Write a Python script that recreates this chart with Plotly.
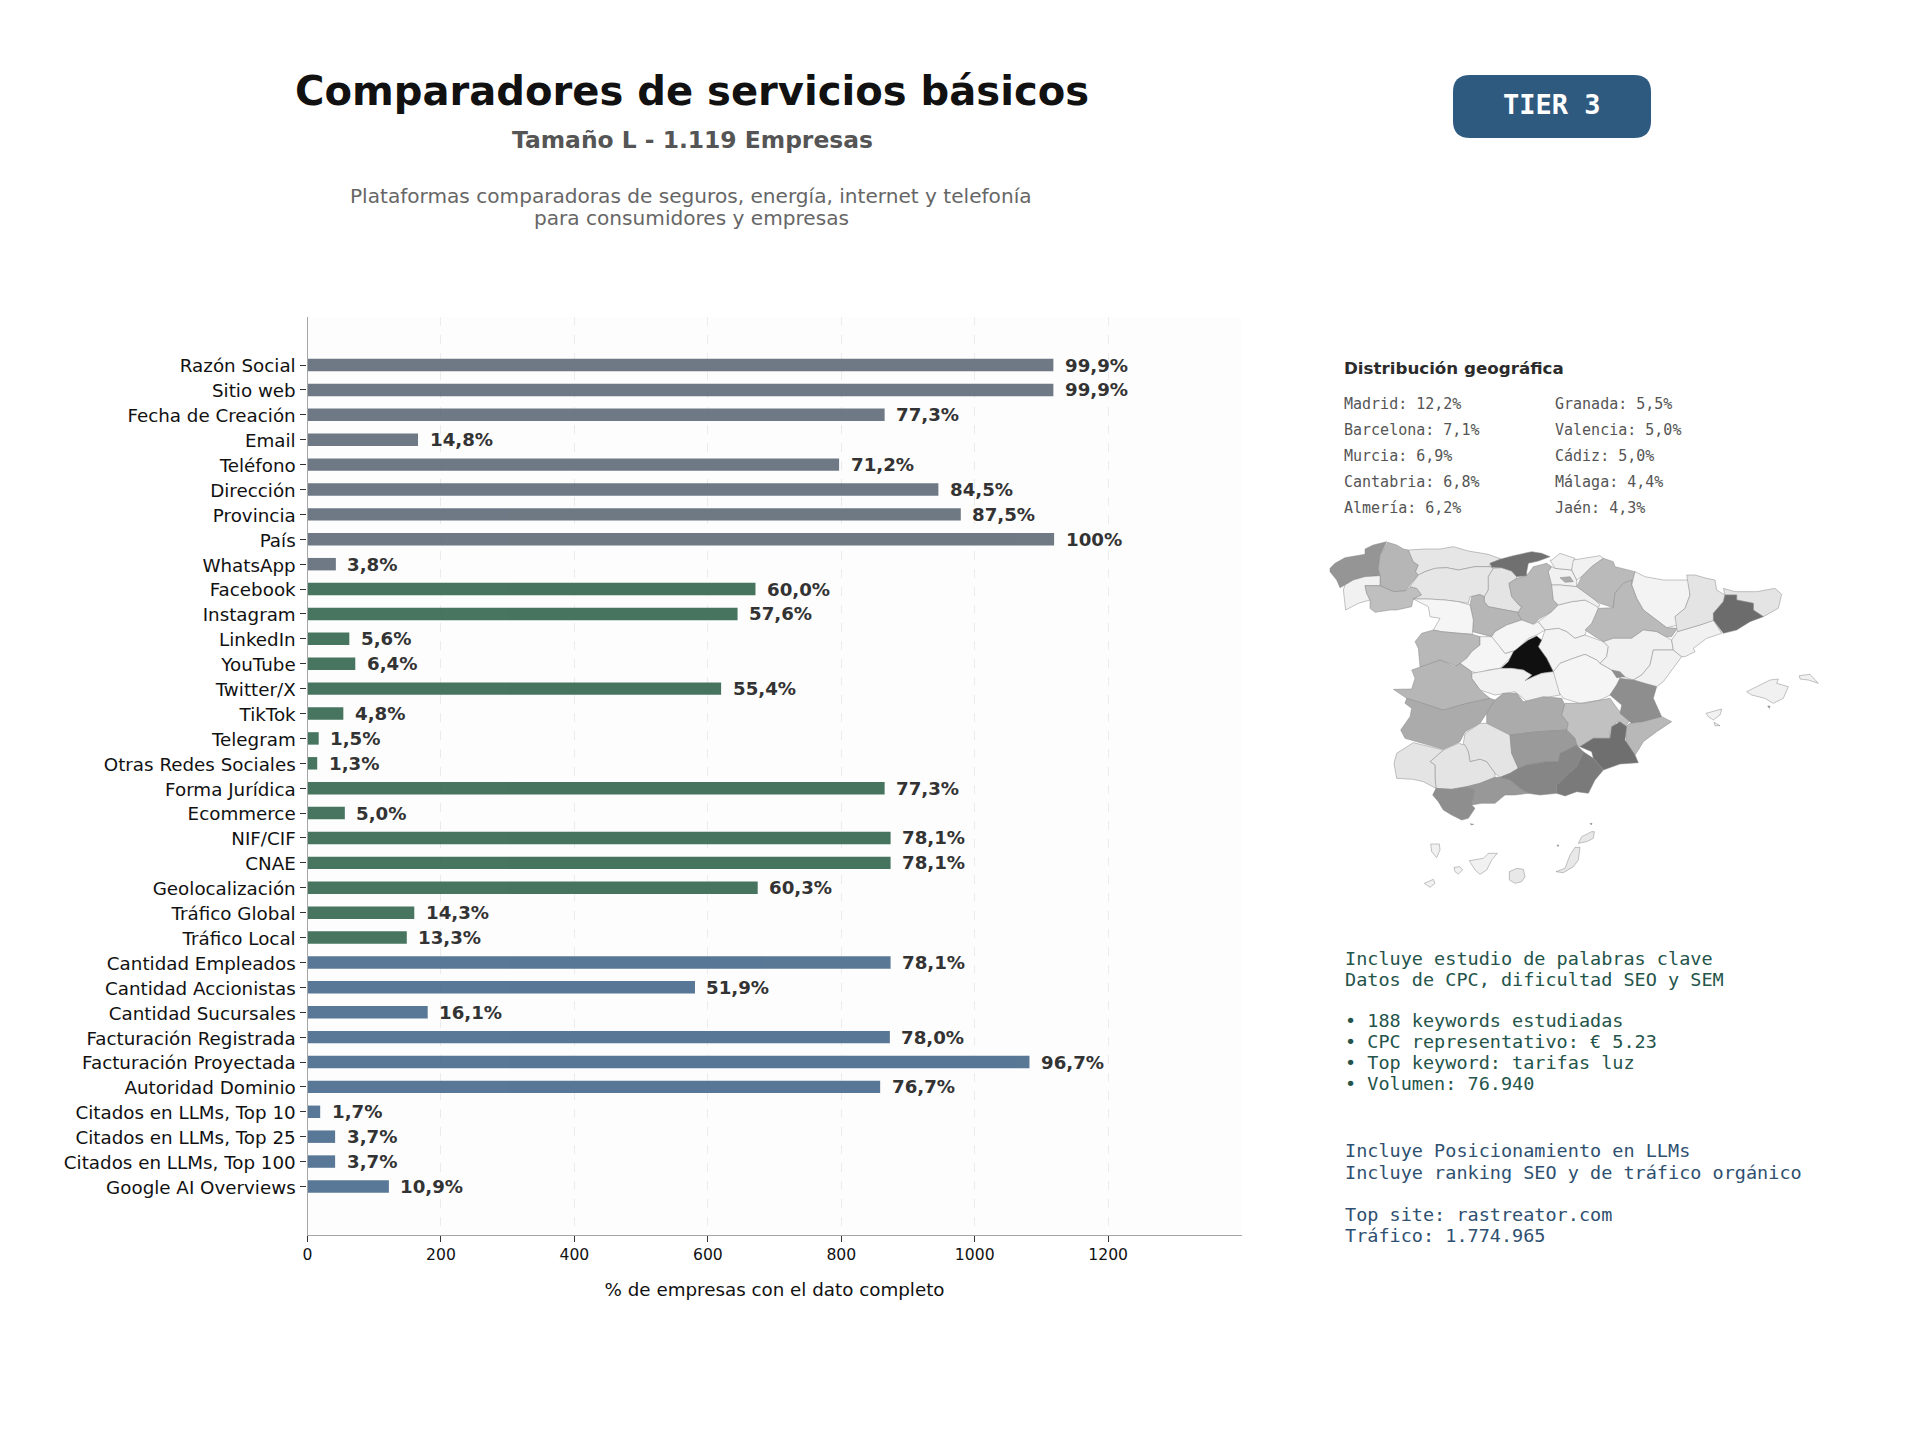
import numpy as np
import plotly.graph_objects as go

# ---- bar data ----
TOTAL_COMPANIES = 1119
FIELDS = ["Razón Social", "Sitio web", "Fecha de Creación", "Email", "Teléfono", "Dirección", "Provincia", "País", "WhatsApp",
          "Facebook", "Instagram", "LinkedIn", "YouTube", "Twitter/X", "TikTok", "Telegram", "Otras Redes Sociales",
          "Forma Jurídica", "Ecommerce", "NIF/CIF", "CNAE", "Geolocalización", "Tráfico Global", "Tráfico Local",
          "Cantidad Empleados", "Cantidad Accionistas", "Cantidad Sucursales", "Facturación Registrada",
          "Facturación Proyectada", "Autoridad Dominio", "Citados en LLMs, Top 10", "Citados en LLMs, Top 25",
          "Citados en LLMs, Top 100", "Google AI Overviews"]
PERCENTS = [99.9, 99.9, 77.3, 14.8, 71.2, 84.5, 87.5, 100, 3.8,
            60.0, 57.6, 5.6, 6.4, 55.4, 4.8, 1.5, 1.3,
            77.3, 5.0, 78.1, 78.1, 60.3, 14.3, 13.3,
            78.1, 51.9, 16.1, 78.0, 96.7, 76.7, 1.7, 3.7, 3.7, 10.9]
GROUP_SIZES = [9, 15, 10]
GROUP_COLORS = ["#5f6b78", "#33664f", "#47698b"]

# ---- side text ----
GEO_LEFT = ["Madrid: 12,2%", "Barcelona: 7,1%", "Murcia: 6,9%", "Cantabria: 6,8%", "Almería: 6,2%"]
GEO_RIGHT = ["Granada: 5,5%", "Valencia: 5,0%", "Cádiz: 5,0%", "Málaga: 4,4%", "Jaén: 4,3%"]
KEYWORD_LINES = [("Incluye estudio de palabras clave", 959), ("Datos de CPC, dificultad SEO y SEM", 980),
                 ("• 188 keywords estudiadas", 1021), ("• CPC representativo: € 5.23", 1042),
                 ("• Top keyword: tarifas luz", 1063), ("• Volumen: 76.940", 1084)]
LLM_LINES = [("Incluye Posicionamiento en LLMs", 1151), ("Incluye ranking SEO y de tráfico orgánico", 1173),
             ("Top site: rastreator.com", 1215), ("Tráfico: 1.774.965", 1236)]

# ---- province outlines in map units, with the share of companies in each ----
PROVINCES = {
    "A Coruña": (4.6, [(60,145),(75,130),(105,113),(140,107),(165,103),(165,87),(190,75),(230,65),(210,105),(205,145),(210,167),(165,170),(130,180),(105,195),(90,203),(80,180),(60,155)]),
    "Lugo": (3.0, [(233,67),(260,75),(280,87),(295,90),(310,125),(325,135),(317,155),(325,165),(295,200),(285,213),(250,215),(210,197),(210,167),(205,145),(210,105)]),
    "Pontevedra": (0.3, [(105,195),(130,180),(165,170),(210,167),(210,197),(165,197),(170,220),(180,240),(145,250),(107,270),(103,235),(100,210)]),
    "Ourense": (2.6, [(165,197),(210,197),(250,215),(285,213),(300,200),(320,205),(335,225),(310,235),(305,260),(260,270),(240,270),(195,277),(180,265),(180,240),(170,220)]),
    "Asturias": (0.8, [(295,90),(345,87),(390,87),(430,80),(475,93),(535,103),(573,117),(540,130),(540,140),(495,140),(445,150),(410,143),(375,145),(345,155),(325,165),(317,155),(325,135),(310,125)]),
    "León": (0.8, [(325,165),(345,155),(375,145),(410,143),(445,150),(495,140),(540,140),(550,145),(535,170),(535,210),(523,230),(505,225),(480,230),(475,250),(445,245),(405,240),(355,237),(310,237),(335,225),(320,205),(300,200)]),
    "Palencia": (0.9, [(550,145),(575,143),(605,153),(620,170),(620,175),(597,190),(605,230),(627,255),(635,260),(625,277),(585,270),(535,260),(523,245),(523,230),(535,210),(535,170)]),
    "Burgos": (2.9, [(620,175),(650,167),(670,140),(710,130),(725,140),(715,155),(727,195),(730,240),(745,255),(725,275),(690,295),(670,313),(635,300),(623,280),(635,260),(627,255),(605,230),(597,190)]),
    "Cantabria": (6.8, [(540,130),(573,117),(610,107),(665,95),(695,100),(720,110),(685,123),(655,130),(650,155),(650,167),(620,170),(605,153),(575,143),(545,142)]),
    "Valladolid": (3.0, [(485,230),(510,223),(523,230),(523,245),(535,260),(585,270),(625,277),(623,280),(635,300),(590,315),(555,335),(545,350),(505,340),(487,335),(490,300),(480,255)]),
    "Zamora": (0.1, [(310,237),(355,237),(405,240),(445,245),(480,255),(490,300),(487,343),(445,340),(395,335),(370,330),(390,295),(360,290),(355,260)]),
    "Salamanca": (2.9, [(315,365),(335,340),(370,330),(395,335),(445,340),(487,343),(510,350),(510,375),(485,395),(470,415),(445,440),(415,430),(390,420),(345,440),(330,440),(325,385)]),
    "Ávila": (0.1, [(510,350),(545,350),(555,360),(585,400),(620,390),(595,420),(570,445),(535,450),(505,460),(485,455),(450,430),(470,415),(485,395),(510,375)]),
    "Segovia": (0.1, [(555,335),(590,315),(635,300),(670,313),(685,305),(705,330),(680,345),(655,355),(630,380),(620,390),(585,400),(555,360),(545,350)]),
    "Soria": (0.2, [(685,305),(725,275),(745,255),(785,245),(825,240),(860,255),(865,265),(850,310),(830,330),(825,345),(795,355),(770,335),(745,325),(705,330)]),
    "Guadalajara": (0.2, [(695,360),(705,330),(745,325),(770,335),(795,355),(825,345),(880,365),(895,380),(890,410),(870,430),(860,420),(825,403),(790,415),(750,430),(735,455),(730,455),(710,415),(685,380)]),
    "Madrid": (12.2, [(680,348),(695,360),(685,380),(710,415),(730,455),(695,460),(670,470),(645,482),(665,465),(640,450),(605,445),(573,445),(595,425),(610,395),(635,375),(655,360)]),
    "Cuenca": (0.1, [(730,455),(750,430),(790,415),(825,403),(860,420),(870,430),(905,450),(930,475),(920,495),(900,525),(870,540),(810,550),(760,535),(745,515),(730,475)]),
    "Toledo": (0.3, [(485,460),(535,450),(570,445),(605,445),(640,450),(665,465),(645,482),(670,470),(695,460),(730,455),(750,525),(695,535),(655,548),(615,515),(555,525),(510,510),(485,475)]),
    "Cáceres": (3.0, [(305,450),(335,440),(390,420),(435,440),(450,430),(485,455),(485,475),(510,510),(540,535),(515,545),(475,555),(410,573),(350,560),(290,535),(250,508),(305,507),(315,475)]),
    "Badajoz": (3.5, [(290,535),(325,545),(400,570),(470,550),(540,535),(555,540),(530,580),(510,610),(465,635),(450,665),(400,688),(340,670),(285,655),(272,630),(300,590),(305,565),(285,550)]),
    "Ciudad Real": (3.5, [(555,540),(580,520),(620,520),(640,545),(700,530),(755,535),(765,555),(755,585),(775,610),(770,630),(685,635),(600,645),(530,610),(530,580)]),
    "Albacete": (2.5, [(765,550),(820,550),(900,535),(925,570),(960,600),(945,620),(920,605),(900,635),(900,655),(850,655),(810,680),(800,675),(795,655),(770,630),(775,610),(755,585)]),
    "Álava": (0.3, [(725,140),(735,145),(785,150),(800,180),(800,200),(750,195),(725,195),(715,155)]),
    "Vizcaya": (0.3, [(725,120),(750,100),(795,115),(785,150),(735,145),(720,120)]),
    "Guipúzcoa": (0.3, [(790,120),(870,107),(880,115),(845,140),(815,170),(800,180),(785,150)]),
    "Treviño": (3.5, [(750,173),(780,170),(790,185),(765,187)]),
    "Navarra": (2.8, [(880,115),(910,125),(915,140),(975,155),(965,195),(940,190),(915,220),(910,263),(870,250),(855,240),(800,200),(815,170),(845,140)]),
    "La Rioja": (0.4, [(725,195),(750,195),(800,200),(855,240),(870,255),(865,262),(825,240),(785,245),(745,255),(730,240)]),
    "Huesca": (0.2, [(975,155),(1005,170),(1060,180),(1135,180),(1140,225),(1125,265),(1095,290),(1105,315),(1070,323),(1040,300),(1000,270),(980,235),(965,195)]),
    "Zaragoza": (2.8, [(965,180),(965,195),(980,235),(1000,270),(1040,300),(1070,323),(1102,325),(1085,350),(1065,350),(1040,335),(1000,330),(965,355),(910,355),(890,370),(855,350),(825,330),(845,310),(865,265),(910,263),(915,220),(940,190)]),
    "Teruel": (0.3, [(880,365),(910,355),(965,355),(1000,330),(1040,335),(1065,350),(1085,360),(1090,390),(1050,390),(1030,390),(1020,435),(995,465),(970,480),(940,470),(905,450),(870,430),(890,410),(895,380)]),
    "Castellón": (0.3, [(1030,390),(1050,390),(1090,390),(1115,410),(1090,445),(1060,485),(1040,500),(1000,490),(970,480),(995,465),(1020,435)]),
    "Tarragona": (0.3, [(1102,335),(1170,315),(1210,300),(1235,340),(1190,355),(1150,385),(1155,395),(1125,410),(1115,410),(1090,390),(1085,360)]),
    "Lleida": (0.9, [(1130,165),(1155,165),(1190,175),(1215,180),(1220,210),(1245,225),(1240,245),(1210,280),(1215,300),(1170,315),(1102,335),(1095,290),(1125,265),(1140,225)]),
    "Girona": (0.9, [(1240,205),(1275,215),(1340,215),(1395,205),(1415,223),(1405,265),(1360,290),(1330,270),(1330,250),(1280,240),(1280,225),(1245,225)]),
    "Barcelona": (7.1, [(1245,225),(1280,225),(1280,240),(1330,250),(1330,270),(1360,290),(1320,305),(1280,330),(1240,340),(1210,300),(1210,280),(1240,245)]),
    "Valencia": (5.0, [(930,475),(970,480),(1040,500),(1030,535),(1055,590),(1000,605),(965,610),(930,580),(935,555),(900,525),(920,495)]),
    "Ademuz": (5.0, [(905,450),(930,455),(945,470),(920,473)]),
    "Alicante": (2.9, [(960,610),(1000,605),(1055,590),(1085,605),(1040,635),(1000,665),(985,690),(975,705),(950,670),(945,620)]),
    "Murcia": (6.9, [(905,620),(930,605),(950,620),(945,660),(975,705),(985,728),(930,732),(880,750),(850,715),(845,695),(810,680),(850,655),(900,655)]),
    "Córdoba": (0.9, [(465,640),(510,610),(530,610),(600,645),(605,700),(625,745),(600,760),(570,772),(555,760),(530,725),(510,718),(480,725),(475,695),(460,670)]),
    "Jaén": (4.3, [(600,645),(685,635),(770,630),(795,655),(800,675),(750,700),(745,725),(710,725),(650,735),(625,745),(605,700)]),
    "Sevilla": (0.9, [(400,690),(445,670),(465,675),(475,695),(480,725),(510,718),(530,725),(555,760),(555,772),(510,790),(470,800),(425,808),(378,805),(375,770),(375,735),(360,725)]),
    "Huelva": (0.9, [(310,668),(340,675),(400,690),(360,725),(375,735),(375,770),(378,805),(340,785),(310,778),(260,775),(252,730),(260,700),(285,685)]),
    "Cádiz": (5.0, [(378,805),(425,808),(470,800),(495,810),(485,855),(495,865),(475,895),(455,900),(425,885),(400,870),(385,845),(368,825)]),
    "Málaga": (4.4, [(470,800),(510,790),(555,772),(570,772),(600,780),(630,805),(655,820),(615,825),(585,825),(555,850),(515,850),(485,855),(495,810)]),
    "Granada": (5.5, [(600,780),(570,772),(600,760),(625,745),(650,735),(710,725),(745,725),(750,700),(800,675),(820,695),(800,740),(770,765),(740,795),(740,820),(690,825),(655,820),(630,805)]),
    "Almería": (6.2, [(820,695),(850,715),(880,750),(855,780),(835,820),(800,815),(765,828),(740,820),(740,795),(770,765),(800,740)]),
    "Mallorca": (0.3, [(1310,515),(1350,495),(1380,480),(1405,477),(1400,490),(1435,500),(1420,535),(1390,550),(1365,535),(1325,525)]),
    "Menorca": (0.3, [(1468,467),(1500,463),(1525,490),(1495,480),(1470,477)]),
    "Ibiza": (0.3, [(1188,580),(1235,567),(1230,585),(1210,600),(1195,590)]),
    "Formentera": (0.3, [(1212,607),(1230,617),(1215,617)]),
    "Cabrera": (4.3, [(1373,558),(1380,558),(1378,565)]),
    "La Palma": (0.3, [(362,972),(388,972),(390,990),(380,1013),(365,995)]),
    "Tenerife": (0.3, [(478,1022),(520,1015),(535,1000),(562,1000),(545,1020),(530,1050),(510,1063),(495,1050)]),
    "La Gomera": (0.3, [(432,1042),(450,1040),(458,1050),(445,1062),(435,1055)]),
    "El Hierro": (0.3, [(343,1090),(370,1078),(375,1090),(360,1102)]),
    "Gran Canaria": (0.7, [(598,1055),(620,1045),(640,1048),(645,1070),(635,1085),(615,1090),(598,1080)]),
    "Fuerteventura": (0.7, [(738,1055),(765,1045),(780,1005),(795,982),(810,982),(805,1020),(790,1040),(760,1058)]),
    "Lanzarote": (0.7, [(805,970),(815,950),(845,935),(853,935),(850,955),(830,965)]),
    "Alegranza": (4.3, [(840,910),(846,910),(844,915)]),
    "Melilla": (4.3, [(741,975),(746,975),(744,980)]),
    "Ceuta": (4.3, [(481,911),(491,913),(484,915)]),
}
SHARE_STOPS = [0.0, 4.3, 7.1, 12.2]
GREY_STOPS = [248, 154, 108, 16]

W, H = 1920, 1440
def px(x): return x / W
def py(y): return 1 - y / H

fig = go.Figure()

# Bars, one trace per colour group
start = 0
for size, color in zip(GROUP_SIZES, GROUP_COLORS):
    names = FIELDS[start:start + size]
    vals = [p / 100 * TOTAL_COMPANIES for p in PERCENTS[start:start + size]]
    fig.add_trace(go.Bar(y=names, x=vals, orientation="h", width=0.5, showlegend=False,
                         marker=dict(color=color, line=dict(width=0)), opacity=0.9))
    start += size

def fmt(p):
    return f"{p:g}%" if p == 100 else f"{p:.1f}".replace(".", ",") + "%"

annotations = []
for name, p in zip(FIELDS, PERCENTS):
    annotations.append(dict(x=p / 100 * TOTAL_COMPANIES, y=name, xref="x", yref="y", text=f"<b>{fmt(p)}</b>",
                            xanchor="left", yanchor="middle", xshift=9.5, yshift=0, showarrow=False,
                            font=dict(family="DejaVu Sans", size=18.2, color="#333333")))

# Province map on its own hidden axes
for name, (share, outline) in PROVINCES.items():
    xs = [pt[0] for pt in outline] + [outline[0][0]]
    ys = [pt[1] for pt in outline] + [outline[0][1]]
    g = int(np.interp(share, SHARE_STOPS, GREY_STOPS))
    fig.add_trace(go.Scatter(x=xs, y=ys, xaxis="x2", yaxis="y2", mode="lines", fill="toself",
                             fillcolor=f"rgb({g},{g},{g})", line=dict(color="#888888", width=0.5),
                             name=name, showlegend=False, hoverinfo="name"))

def text(x, y, s, size, color, family="DejaVu Sans", anchor="left", bold=False):
    annotations.append(dict(x=px(x), y=py(y), xref="paper", yref="paper", text=f"<b>{s}</b>" if bold else s,
                            xanchor=anchor, yanchor="middle", showarrow=False,
                            font=dict(family=family, size=size, color=color)))

# Header
text(691.5, 91.5, "Comparadores de servicios básicos", 40.1, "#111111", anchor="center", bold=True)
text(692, 140, "Tamaño L - 1.119 Empresas", 23.4, "#555555", anchor="center", bold=True)
text(691, 196, "Plataformas comparadoras de seguros, energía, internet y telefonía", 20.1, "#666666", anchor="center")
text(691, 218, "para consumidores y empresas", 20.1, "#666666", anchor="center")
text(1552, 105, "TIER 3", 27, "#ffffff", family="DejaVu Sans Mono", anchor="center", bold=True)

# Geographic ranking
text(1342, 368, "Distribución geográfica", 16.7, "#2b2b2b", bold=True)
for i, (a, b) in enumerate(zip(GEO_LEFT, GEO_RIGHT)):
    y = 403.5 + i * 26.2
    text(1342, y, a, 15, "#555555", family="DejaVu Sans Mono")
    text(1552.5, y, b, 15, "#555555", family="DejaVu Sans Mono")

# Notes below the map
for line, y in KEYWORD_LINES:
    text(1342.5, y - 0.5, line, 18.5, "#24544a", family="DejaVu Sans Mono")
for line, y in LLM_LINES:
    text(1342.5, y - 0.5, line, 18.5, "#2f5070", family="DejaVu Sans Mono")

# Rounded badge
bx0, bx1, by0, by1, r = 1453, 1651, 75, 138, 17
badge = (f"M {px(bx0+r)} {py(by0)} L {px(bx1-r)} {py(by0)} Q {px(bx1)} {py(by0)} {px(bx1)} {py(by0+r)} "
         f"L {px(bx1)} {py(by1-r)} Q {px(bx1)} {py(by1)} {px(bx1-r)} {py(by1)} "
         f"L {px(bx0+r)} {py(by1)} Q {px(bx0)} {py(by1)} {px(bx0)} {py(by1-r)} "
         f"L {px(bx0)} {py(by0+r)} Q {px(bx0)} {py(by0)} {px(bx0+r)} {py(by0)} Z")

# Plot panel background drawn only behind the bars, so the map sits on plain white
panel = dict(type="rect", xref="paper", yref="paper", x0=px(307.5), x1=px(1241.6), y0=py(1234.5), y1=py(317),
             fillcolor="#fdfdfd", line=dict(width=0), layer="below")
shapes = [panel, dict(type="path", path=badge, xref="paper", yref="paper", fillcolor="#2f5a80",
                      line=dict(width=0), layer="below")]

fig.update_layout(
    width=W, height=H, margin=dict(l=0, r=0, t=0, b=0, autoexpand=False),
    paper_bgcolor="#ffffff", plot_bgcolor="rgba(0,0,0,0)", barmode="overlay", showlegend=False,
    annotations=annotations, shapes=shapes,
    xaxis=dict(domain=[px(307.5), px(1241.6)], range=[0, 1400], tickvals=[0, 200, 400, 600, 800, 1000, 1200],
               ticks="outside", ticklen=6, tickcolor="#333333", tickwidth=1,
               showgrid=True, gridcolor="#ececec", griddash="dash", gridwidth=1, zeroline=False,
               showline=True, linecolor="#a6a6a6", linewidth=1.3,
               tickfont=dict(family="DejaVu Sans", size=15.6, color="#111111"),
               title=dict(text="% de empresas con el dato completo", standoff=19,
                          font=dict(family="DejaVu Sans", size=18.3, color="#111111"))),
    yaxis=dict(domain=[py(1234.5), py(317)], type="category", categoryorder="array", categoryarray=FIELDS,
               range=[33 + 1.93, -1.93], ticks="outside", ticklen=6, tickcolor="#333333", tickwidth=1,
               ticklabelstandoff=1, ticklabelshift=-1,
               showgrid=False, zeroline=False, showline=True, linecolor="#a6a6a6", linewidth=1.3,
               tickfont=dict(family="DejaVu Sans", size=18.3, color="#111111")),
    xaxis2=dict(domain=[px(1310), px(1830)], range=[0, 1560], visible=False, anchor="y2", fixedrange=True),
    yaxis2=dict(domain=[py(920), py(520)], range=[1200, 0], visible=False, anchor="x2", fixedrange=True),
)

fig.write_html("out.html")
